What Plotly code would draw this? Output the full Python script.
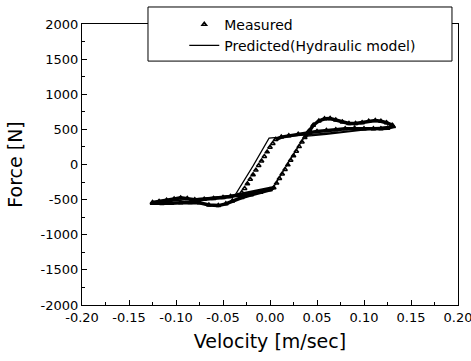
import plotly.graph_objects as go

# ---------------- data ----------------
# Predicted (hydraulic model) hysteresis loop
pred_v = [-0.125, -0.100, -0.070, -0.038, -0.015, 0.003, 0.020, 0.037, 0.060,
          0.085, 0.110, 0.130, 0.105, 0.075, 0.045, 0.020, -0.001, -0.018,
          -0.037, -0.070, -0.100, -0.125]
pred_f = [-545, -515, -480, -436, -390, -340, 35, 400, 430,
          465, 505, 550, 505, 465, 430, 400, 375, -20,
          -432, -480, -515, -545]

# Measured: lower band (negative velocity)
meas_low_v = [-0.125, -0.115, -0.105, -0.095, -0.085, -0.075, -0.065, -0.055,
              -0.047, -0.040, -0.030, -0.020, -0.010, 0.000, 0.004]
meas_low_f = [-550, -555, -550, -545, -540, -545, -575, -585,
              -560, -520, -470, -430, -395, -360, -330]
# Measured: steep rising part
meas_rise_v = [0.007, 0.010, 0.013, 0.016, 0.019, 0.022, 0.025, 0.028, 0.031,
               0.034, 0.037]
meas_rise_f = [-265, -200, -135, -70, -5, 60, 125, 190, 255, 320, 385]
# Measured: upper band (positive velocity)
meas_up_v = [0.041, 0.046, 0.052, 0.058, 0.064, 0.070, 0.077, 0.084, 0.091,
             0.098, 0.105, 0.112, 0.118, 0.124, 0.130, 0.131, 0.125, 0.118,
             0.110, 0.100, 0.090, 0.080, 0.070, 0.060, 0.050, 0.040, 0.030,
             0.020, 0.012, 0.006]
meas_up_f = [470, 560, 620, 650, 655, 635, 605, 585, 585,
             595, 615, 625, 615, 595, 560, 540, 515, 510,
             510, 510, 515, 510, 495, 485, 470, 450, 430,
             410, 390, 355]
# Measured: steep falling part
meas_fall_v = [0.003, 0.000, -0.003, -0.006, -0.009, -0.012, -0.015, -0.018,
               -0.021, -0.024, -0.027, -0.030, -0.034]
meas_fall_f = [300, 245, 180, 115, 50, -15, -80, -145, -210, -275, -340, -400,
               -440]
# Measured: lower band return
meas_ret_v = [-0.042, -0.050, -0.060, -0.070, -0.080, -0.088, -0.095, -0.102,
              -0.110, -0.118, -0.125]
meas_ret_f = [-455, -470, -485, -495, -500, -485, -475, -490, -510, -525, -540]

x_ticks = [-0.20, -0.15, -0.10, -0.05, 0.00, 0.05, 0.10, 0.15, 0.20]
y_ticks = [-2000, -1500, -1000, -500, 0, 500, 1000, 1500, 2000]

# ---------------- figure ----------------
FONT = "DejaVu Sans"
fig = go.Figure()

# dense bands of overlapping measured samples
low_band_v = meas_low_v + meas_fall_v[-1:] + meas_ret_v
low_band_f = meas_low_f + meas_fall_f[-1:] + meas_ret_f
up_band_v = meas_rise_v[-1:] + meas_up_v
up_band_f = meas_rise_f[-1:] + meas_up_f
for bv, bf in [(low_band_v, low_band_f), (up_band_v, up_band_f)]:
    fig.add_trace(go.Scatter(x=bv, y=bf, mode="lines", showlegend=False,
                             line=dict(color="black", width=3.5),
                             hoverinfo="skip"))

meas_v = meas_low_v + meas_rise_v + meas_up_v + meas_fall_v + meas_ret_v
meas_f = meas_low_f + meas_rise_f + meas_up_f + meas_fall_f + meas_ret_f
fig.add_trace(go.Scatter(x=meas_v, y=meas_f, mode="markers", name="Measured",
                         marker=dict(symbol="triangle-up-open", size=4,
                                     color="black", line=dict(width=1.5))))
fig.add_trace(go.Scatter(x=pred_v, y=pred_f, mode="lines",
                         name="Predicted(Hydraulic model)",
                         line=dict(color="black", width=1.2)))

# legend frame
fig.add_shape(type="rect", xref="paper", yref="paper",
              x0=0.1755, x1=0.984, y0=0.868, y1=1.0605,
              fillcolor="white", line=dict(color="black", width=1),
              layer="above")

axis_common = dict(showgrid=False, zeroline=False, showline=True,
                   linecolor="black", linewidth=1.2, mirror=True,
                   ticks="inside", ticklen=5, tickwidth=1, tickcolor="black",
                   automargin=False, ticklabeloverflow="allow",
                   tickfont=dict(family=FONT, size=13, color="black"))

fig.update_xaxes(range=[-0.2, 0.2], tickvals=x_ticks,
                 ticktext=[f"{t:.2f}" for t in x_ticks],
                 minor=dict(ticks="inside", ticklen=3, dtick=0.025,
                            tick0=0, tickcolor="black"),
                 title=dict(text="Velocity [m/sec]", standoff=10,
                            font=dict(family=FONT, size=19, color="black")),
                 **axis_common)
fig.update_yaxes(range=[-2000, 2000], tickvals=y_ticks,
                 ticktext=[str(t) for t in y_ticks],
                 minor=dict(ticks="inside", ticklen=3, dtick=250, tick0=0,
                            tickcolor="black"),
                 title=dict(text="Force [N]", standoff=12,
                            font=dict(family=FONT, size=19, color="black")),
                 **axis_common)

fig.update_layout(
    width=471, height=361,
    margin=dict(l=82, r=13, t=24, b=56, autoexpand=False),
    paper_bgcolor="white", plot_bgcolor="white",
    font=dict(family=FONT, color="black"),
    legend=dict(x=0.272, y=1.055, xanchor="left", yanchor="top",
                bgcolor="rgba(0,0,0,0)", borderwidth=0, tracegroupgap=0,
                font=dict(family=FONT, size=14, color="black")),
)

fig.write_html("out.html", config={"displayModeBar": False},
               post_script="document.body.style.margin='0';")
